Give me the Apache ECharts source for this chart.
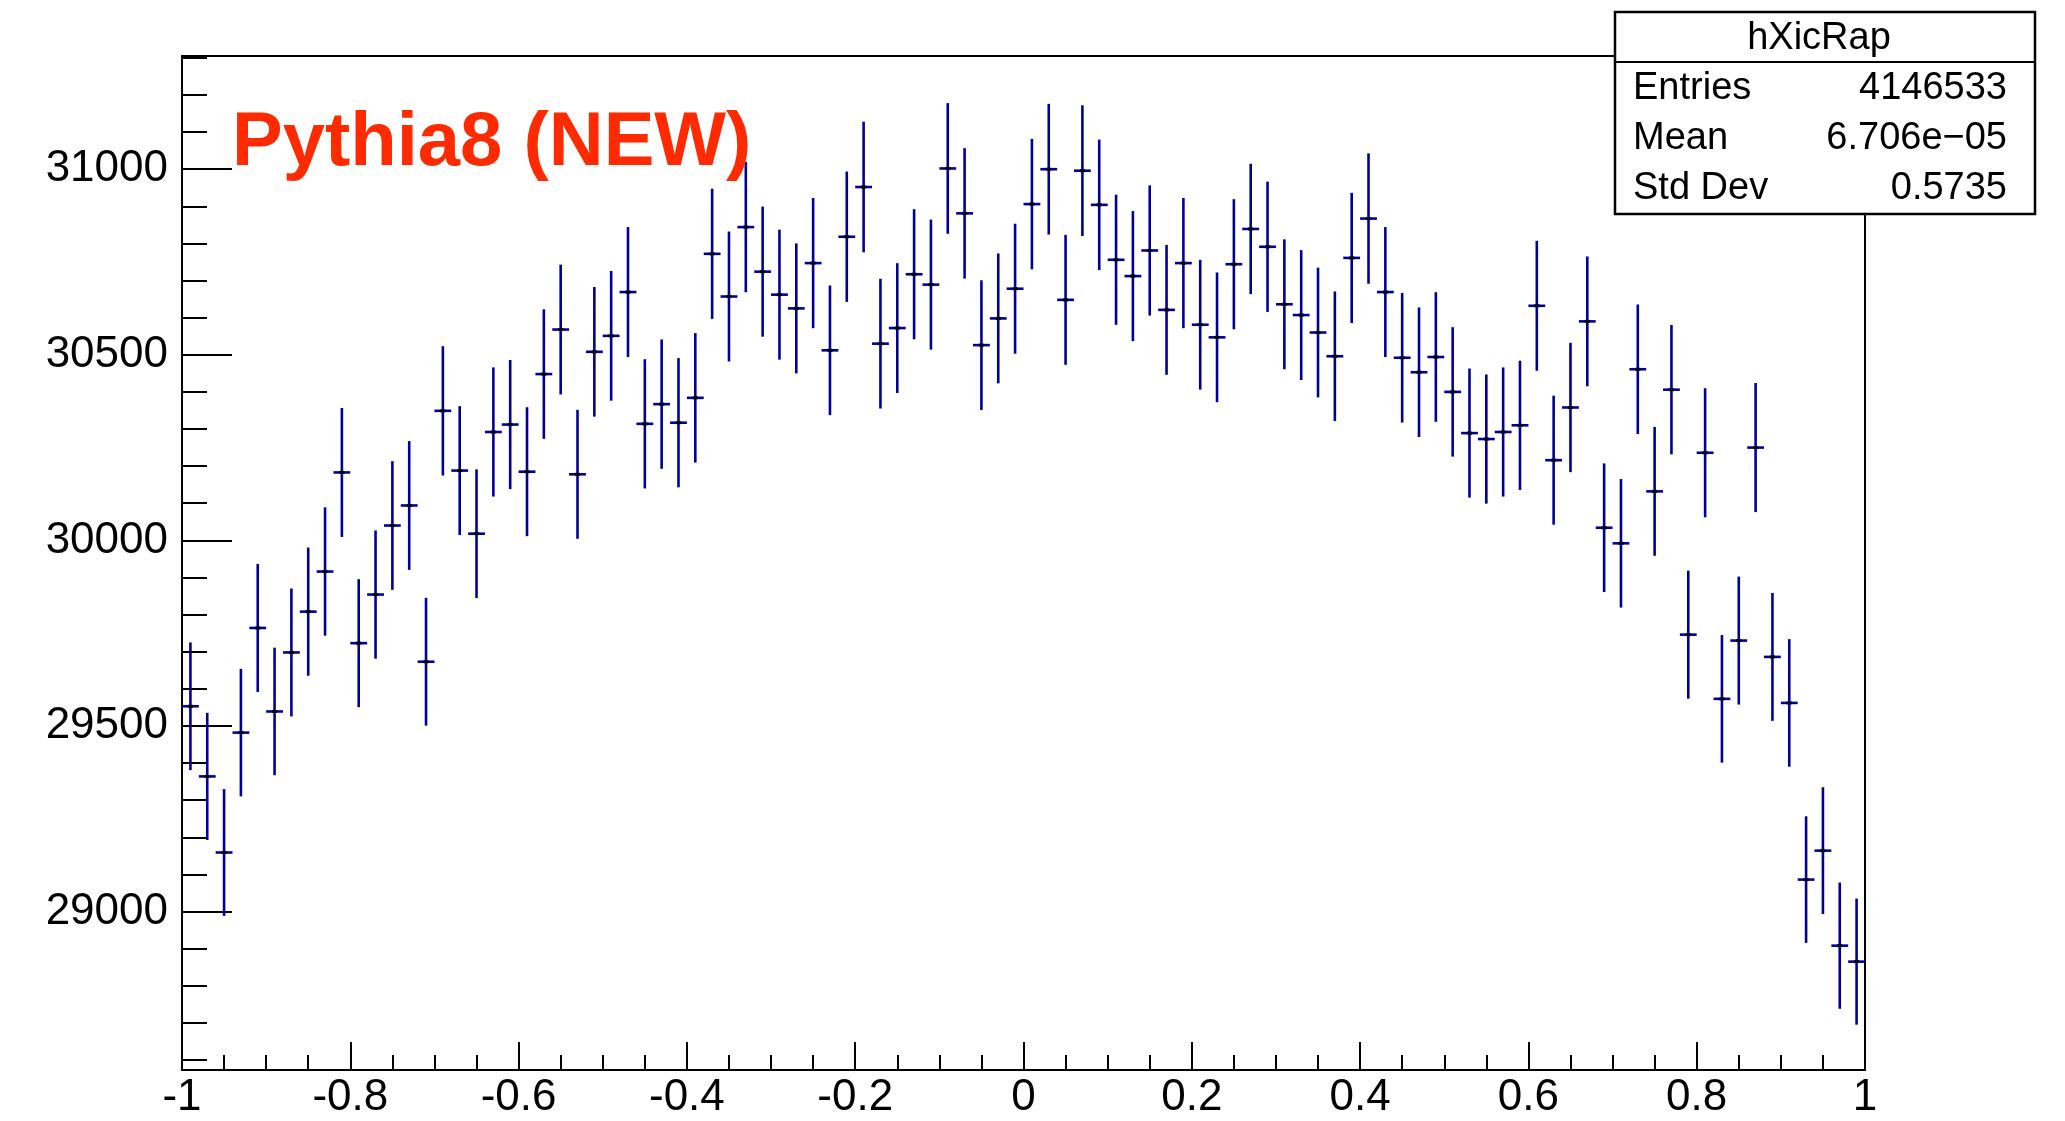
<!DOCTYPE html>
<html>
<head>
<meta charset="utf-8">
<script src="https://cdn.jsdelivr.net/npm/echarts@6/dist/echarts.min.js"></script>
<style>
  html, body { margin: 0; padding: 0; background: #ffffff; }
  #chart { width: 2065px; height: 1121px; }
</style>
</head>
<body>
<div id="chart"></div>
<script>
// Histogram hXicRap: 100 bins from -1 to 1
const binLow = -1;
const binWidth = 0.02;
const counts = [
  29553, 29364, 29159, 29482, 29764, 29539, 29698, 29808, 29916, 30183,
  29723, 29854, 30040, 30094, 29673, 30349, 30188, 30018, 30292, 30312,
  30185, 30448, 30568, 30178, 30508, 30551, 30669, 30314, 30367, 30317,
  30384, 30772, 30657, 30844, 30724, 30662, 30625, 30747, 30512, 30818,
  30952, 30530, 30572, 30717, 30689, 31002, 30881, 30526, 30598, 30678,
  30906, 31000, 30648, 30996, 30904, 30756, 30712, 30781, 30621, 30747,
  30581, 30547, 30744, 30839, 30791, 30636, 30607, 30560, 30496, 30761,
  30867, 30669, 30492, 30453, 30494, 30400, 30289, 30273, 30292, 30310,
  30632, 30216, 30358, 30590, 30034, 29992, 30461, 30132, 30406, 29746,
  30236, 29573, 29730, 30250, 29686, 29562, 29086, 29164, 28908, 28865
];
const yMajorTicks = [29000, 29500, 30000, 30500, 31000];
const yMinorTicks = [28600, 28700, 28800, 28900, 29000, 29100, 29200, 29300, 29400, 29500,
  29600, 29700, 29800, 29900, 30000, 30100, 30200, 30300, 30400, 30500,
  30600, 30700, 30800, 30900, 31000, 31100, 31200, 31300];
const histTitle = 'hXicRap';
const statsLabels = ['Entries', 'Mean', 'Std Dev'];
const statsValues = ['4146533', '6.706e\u221205', '0.5735'];
const labelText = 'Pythia8 (NEW)';

// Poisson errors sqrt(N) as drawn by ROOT
const data = counts.map((c, i) => [binLow + binWidth * (i + 0.5), c, Math.sqrt(c)]);

const yMin = 28573, yMax = 31305;
const ink = '#000099';
const font = '"Liberation Sans", Arial, Helvetica, sans-serif';

const chart = echarts.init(document.getElementById('chart'), null, { renderer: 'canvas' });

const gridL = 182, gridT = 56, gridR = 2065 - 1865, gridB = 1121 - 1070;

function statText(str, x, y, align) {
  return { type: 'text', x: x, y: y,
    style: { text: str, font: '38px ' + font, fill: '#000', align: align, verticalAlign: 'middle' } };
}

chart.setOption({
  animation: false,
  backgroundColor: '#ffffff',
  grid: { left: gridL, top: gridT, right: gridR, bottom: gridB, show: true, borderColor: '#000', borderWidth: 2, backgroundColor: 'transparent' },
  xAxis: {
    type: 'value', min: -1, max: 1, interval: 0.2,
    axisLine: { show: true, onZero: false, lineStyle: { color: '#000', width: 2 } },
    axisTick: { show: true, inside: true, length: 28, lineStyle: { color: '#000', width: 2 } },
    minorTick: { show: true, splitNumber: 4, length: 15, lineStyle: { color: '#000', width: 2 } },
    splitLine: { show: false },
    axisLabel: { color: '#000', fontFamily: font, fontSize: 44, margin: 6,
      formatter: v => String(Math.round(v * 10) / 10) }
  },
  yAxis: [
    {
      type: 'value', min: yMin, max: yMax, position: 'left',
      axisLine: { show: true, onZero: false, lineStyle: { color: '#000', width: 2 } },
      axisTick: { show: true, inside: true, length: 50, customValues: yMajorTicks, lineStyle: { color: '#000', width: 2 } },
      axisLabel: { show: true, customValues: yMajorTicks, color: '#000', fontFamily: font, fontSize: 44, margin: 14,
        formatter: v => String(v) },
      splitLine: { show: false }
    },
    {
      type: 'value', min: yMin, max: yMax, position: 'left', offset: 0,
      axisLine: { show: false, onZero: false },
      axisTick: { show: true, inside: true, length: 25, customValues: yMinorTicks, lineStyle: { color: '#000', width: 2 } },
      axisLabel: { show: false },
      splitLine: { show: false }
    }
  ],
  series: [{
    type: 'custom',
    xAxisIndex: 0, yAxisIndex: 0,
    data: data,
    clip: true,
    renderItem: function (params, api) {
      const x = api.value(0), y = api.value(1), e = api.value(2);
      const c = api.coord([x, y]);
      const hi = api.coord([x, y + e]);
      const lo = api.coord([x, y - e]);
      const l = api.coord([x - binWidth / 2, y]);
      const r = api.coord([x + binWidth / 2, y]);
      return {
        type: 'group',
        children: [
          { type: 'line', shape: { x1: c[0], y1: hi[1], x2: c[0], y2: lo[1] }, style: { stroke: ink, lineWidth: 2.6 } },
          { type: 'line', shape: { x1: l[0], y1: c[1], x2: r[0], y2: c[1] }, style: { stroke: ink, lineWidth: 2.6 } },
          { type: 'rect', shape: { x: c[0] - 2.5, y: c[1] - 1.5, width: 5, height: 3 }, style: { fill: '#000' } }
        ]
      };
    }
  }],
  graphic: [
    {
      type: 'text', left: 232, top: 144 - 38, z: 10,
      style: { text: labelText, fill: '#ff2a00', font: 'bold 76px ' + font }
    },
    {
      type: 'group', z: 20,
      children: [
        { type: 'rect', shape: { x: 1615, y: 12, width: 420, height: 202 }, style: { fill: '#fff', stroke: '#000', lineWidth: 2.5 } },
        { type: 'line', shape: { x1: 1615, y1: 62, x2: 2035, y2: 62 }, style: { stroke: '#000', lineWidth: 2 } },
        statText(histTitle, 1819, 38.5, 'center'),
        statText(statsLabels[0], 1633, 88.5, 'left'),
        statText(statsLabels[1], 1633, 138.5, 'left'),
        statText(statsLabels[2], 1633, 188.5, 'left'),
        statText(statsValues[0], 2007, 88.5, 'right'),
        statText(statsValues[1], 2007, 138.5, 'right'),
        statText(statsValues[2], 2007, 188.5, 'right')
      ]
    }
  ]
});
</script>
</body>
</html>
